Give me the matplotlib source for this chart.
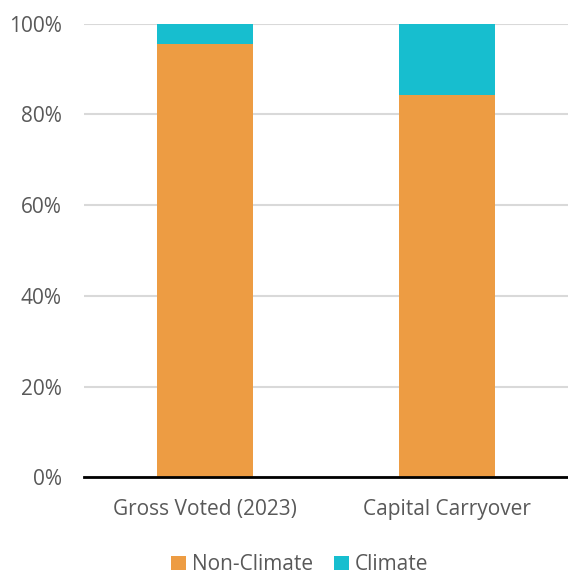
import matplotlib.pyplot as plt
import numpy as np

# Dados (fração do total)
categorias = ['Gross Voted (2023)', 'Capital Carryover']
non_climate = [0.955, 0.843]
climate = [0.045, 0.157]

plt.rcParams['font.family'] = ['Open Sans', 'DejaVu Sans']

fig = plt.figure(figsize=(5.68, 5.75), dpi=100)
ax = fig.add_axes([0.148, 0.170, 0.852, 0.789])

x = np.arange(len(categorias))
largura = 0.4

ax.bar(x, non_climate, largura, color='#ED9C43', label='Non-Climate', zorder=3)
ax.bar(x, climate, largura, bottom=non_climate, color='#17BECF', label='Climate', zorder=3)

ax.set_xlim(-0.5, 1.5)
ax.set_ylim(0, 1)
ax.set_yticks(np.arange(0, 1.01, 0.2))
ax.set_yticklabels([f'{int(round(v * 100))}%' for v in np.arange(0, 1.01, 0.2)])
ax.set_xticks(x)
ax.set_xticklabels(categorias)

# Grade horizontal
ax.grid(axis='y', color='#D9D9D9', linewidth=1.5, zorder=0)
for s in ['top', 'right', 'left']:
    ax.spines[s].set_visible(False)
ax.spines['bottom'].set_color('black')
ax.spines['bottom'].set_linewidth(2)
ax.spines['bottom'].set_zorder(4)

ax.tick_params(axis='both', length=0, labelsize=15, labelcolor='#595959')
ax.tick_params(axis='y', pad=16)
ax.tick_params(axis='x', pad=16)

fig.legend(loc='center', bbox_to_anchor=(0.528, 0.018), ncol=2, frameon=False,
           fontsize=15, labelcolor='#595959', handlelength=0.7, handleheight=0.7,
           handletextpad=0.3, columnspacing=1.0)

fig.savefig('out.png', dpi=100)
plt.close()
